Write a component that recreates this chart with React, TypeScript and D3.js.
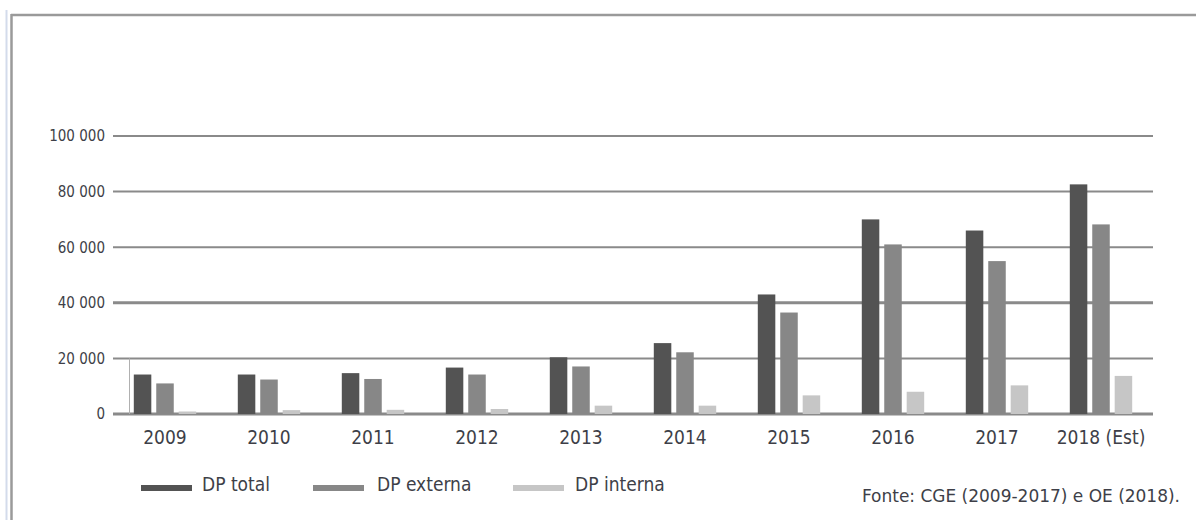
import React from 'react';
import * as d3 from 'd3';

const years = ['2009', '2010', '2011', '2012', '2013', '2014', '2015', '2016', '2017', '2018 (Est)'];
const dpTotal = [14200, 14200, 14700, 16700, 20400, 25500, 43000, 70000, 66000, 82600];
const dpExterna = [11000, 12400, 12600, 14200, 17100, 22200, 36500, 61000, 55000, 68200];
const dpInterna = [900, 1400, 1500, 1800, 3000, 3000, 6700, 8000, 10300, 13700];
const seriesNames = ['DP total', 'DP externa', 'DP interna'];
const seriesValues = [dpTotal, dpExterna, dpInterna];
const seriesColors = ['#535353', '#878787', '#c6c6c6'];
const yTicks = [0, 20000, 40000, 60000, 80000, 100000];
const sourceText = 'Fonte: CGE (2009-2017) e OE (2018).';

const W = 1196;
const H = 520;
const FONT = '"DejaVu Sans Condensed", "DejaVu Sans", sans-serif';
const TEXT = '#3e3f48';

const locale = d3.formatLocale({ decimal: ',', thousands: ' ', grouping: [3], currency: ['', ''] });
const fmt = locale.format(',');

export default function App() {
  const x0 = d3.scaleBand<string>().domain(years).range([113, 1153]).paddingInner(0.4).paddingOuter(0.2);
  const x1 = d3.scaleBand<string>().domain(seriesNames).range([0, x0.bandwidth()]).paddingInner(0.22).paddingOuter(0);
  const y = d3.scaleLinear().domain([0, 100000]).range([414, 136]);

  const legendX = [141, 313, 513];
  const legendTextX = [202, 377, 575];

  return (
    <svg width={W} height={H} style={{ position: 'absolute', left: 0, top: 0, background: '#fff' }}>
      <rect x={0} y={0} width={W} height={H} fill="#fff" />
      {/* frame */}
      <line x1={6.5} x2={6.5} y1={10} y2={H} stroke="#d3dbeb" strokeWidth={2} />
      <line x1={11.5} x2={11.5} y1={14} y2={H} stroke="#9a9a9a" strokeWidth={2.5} />
      <line x1={11} x2={W} y1={15} y2={15} stroke="#9a9a9a" strokeWidth={2.5} />

      {/* gridlines */}
      {yTicks.map((t) => (
        <line
          key={t}
          x1={113}
          x2={1153}
          y1={y(t)}
          y2={y(t)}
          stroke="#8a8a8a"
          strokeWidth={t === 0 || t === 40000 ? 3 : 2}
        />
      ))}
      <line x1={129.5} x2={129.5} y1={y(20000)} y2={y(0)} stroke="#b0b0b0" strokeWidth={1} />

      {/* y tick labels */}
      {yTicks.map((t) => (
        <text
          key={'l' + t}
          x={105}
          y={y(t)}
          dy="0.36em"
          textAnchor="end"
          fontFamily={FONT}
          fontSize={15}
          fill={TEXT}
        >
          {fmt(t)}
        </text>
      ))}

      {/* bars */}
      {years.map((yr, i) => (
        <g key={yr} transform={`translate(${x0(yr)},0)`}>
          {seriesNames.map((s, k) => {
            const v = seriesValues[k][i];
            return (
              <rect
                key={s}
                x={x1(s)}
                y={y(v)}
                width={x1.bandwidth()}
                height={y(0) - y(v)}
                fill={seriesColors[k]}
              />
            );
          })}
        </g>
      ))}

      {/* x labels */}
      {years.map((yr) => (
        <text
          key={'x' + yr}
          x={(x0(yr) as number) + x0.bandwidth() / 2}
          y={444}
          textAnchor="middle"
          fontFamily={FONT}
          fontSize={19}
          fill={TEXT}
        >
          {yr}
        </text>
      ))}

      {/* legend */}
      {seriesNames.map((s, k) => (
        <g key={'lg' + s}>
          <rect x={legendX[k]} y={485} width={51} height={6} fill={seriesColors[k]} />
          <text x={legendTextX[k]} y={491} fontFamily={FONT} fontSize={19} fill={TEXT}>
            {s}
          </text>
        </g>
      ))}

      {/* source */}
      <text
        x={862}
        y={502}
        fontFamily={FONT}
        fontSize={18}
        fill={TEXT}
        textLength={318}
        lengthAdjust="spacingAndGlyphs"
      >
        {sourceText}
      </text>
    </svg>
  );
}
